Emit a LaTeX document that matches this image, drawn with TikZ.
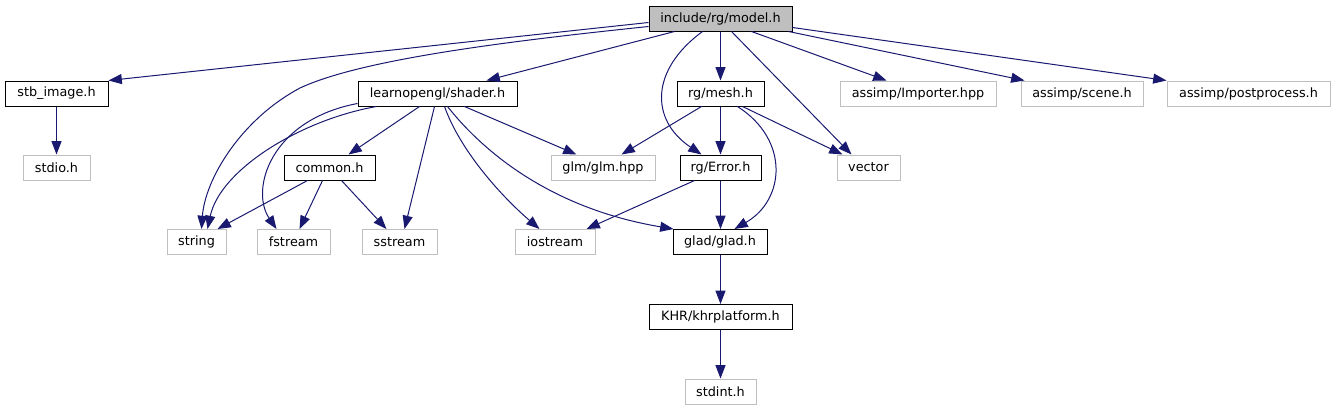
\documentclass[tikz,border=0pt]{standalone}
\usepackage{fontspec}
\setmainfont{DejaVu Sans}
\usetikzlibrary{arrows.meta,calc}
\definecolor{navy}{HTML}{191970}
\definecolor{grey75}{HTML}{BFBFBF}
\tikzset{
  box/.style={draw=black, line width=0.75pt, minimum height=18.75pt, inner sep=0pt,
              font=\fontsize{9.6}{11}\selectfont, text=black},
  ext/.style={box, draw=grey75},
  bw/.style={minimum width=#1*0.75pt},
  dep/.style={draw=navy, line width=0.75pt, -{Triangle[length=10pt,width=7.5pt]}}
}
\begin{document}
\begin{tikzpicture}[x=0.75pt,y=-0.75pt]
\useasboundingbox (0,0) rectangle (1335,411);
% row 0
\node[box,bw=143,fill=grey75] (model) at (720.5,18.5) {include/rg/model.h};
% row 1
\node[box,bw=103] (stb) at (56.5,93.5) {stb\_image.h};
\node[box,bw=159] (shader) at (437.5,93.5) {learnopengl/shader.h};
\node[box,bw=87] (mesh) at (720.5,93.5) {rg/mesh.h};
\node[ext,bw=156] (importer) at (918,93.5) {assimp/Importer.hpp};
\node[ext,bw=122] (scene) at (1082,93.5) {assimp/scene.h};
\node[ext,bw=163] (postprocess) at (1248.5,93.5) {assimp/postprocess.h};
% row 2
\node[ext,bw=67] (stdio) at (56.5,167.5) {stdio.h};
\node[box,bw=91] (common) at (329.5,167.5) {common.h};
\node[ext,bw=104] (glm) at (603,167.5) {glm/glm.hpp};
\node[box,bw=81] (error) at (720.5,167.5) {rg/Error.h};
\node[ext,bw=63] (vector) at (868.5,167.5) {vector};
% row 3
\node[ext,bw=59] (string) at (196.5,242) {string};
\node[ext,bw=73] (fstream) at (293.5,242) {fstream};
\node[ext,bw=75] (sstream) at (399.5,242) {sstream};
\node[ext,bw=80] (iostream) at (555,242) {iostream};
\node[box,bw=94] (glad) at (720,242) {glad/glad.h};
% row 4, 5
\node[box,bw=143] (khr) at (720.5,317) {KHR/khrplatform.h};
\node[ext,bw=71] (stdint) at (720.5,391.5) {stdint.h};

% edges from model.h
\draw[dep] ($(model.north west)+(0,17)$) -- (stb.north east);
\draw[dep] ($(model.north west)+(0,21)$) .. controls (500,42) and (360,60) .. (300,88)
           .. controls (240,120) and (205,180) .. ($(string.north west)+(35,0)$);
\draw[dep] ($(model.south west)+(26,0)$) -- ($(shader.north west)+(129,0)$);
\draw[dep] ($(model.south west)+(54,0)$) .. controls (650,70) and (650,120) .. ($(error.north west)+(22,0)$);
\draw[dep] (model.south) -- (mesh.north);
\draw[dep] ($(model.south west)+(83,0)$) -- ($(vector.north west)+(15,0)$);
\draw[dep] ($(model.south west)+(103,0)$) -- ($(importer.north west)+(47,0)$);
\draw[dep] ($(model.south east)+(-4,0)$) -- ($(scene.north west)+(4,0)$);
\draw[dep] ($(model.north east)+(0,22)$) -- (postprocess.north west);
% stb
\draw[dep] (stb.south) -- (stdio.north);
% shader
\draw[dep] ($(shader.south west)+(19,0)$) .. controls (300,120) and (220,170) .. ($(string.north west)+(41,0)$);
\draw[dep] ($(shader.north west)+(0,23)$) .. controls (270,120) and (250,190) .. ($(fstream.north west)+(20,0)$);
\draw[dep] ($(shader.south west)+(62,0)$) -- ($(common.north west)+(65,0)$);
\draw[dep] ($(shader.south west)+(77,0)$) -- ($(sstream.north west)+(43,0)$);
\draw[dep] ($(shader.south west)+(107,0)$) -- ($(glm.north west)+(26,0)$);
\draw[dep] ($(shader.south west)+(87,0)$) .. controls (460,150) and (500,195) .. ($(iostream.north west)+(25,0)$);
\draw[dep] ($(shader.south west)+(90,0)$) .. controls (490,160) and (560,210) .. ($(glad.north west)+(1,0)$);
% common
\draw[dep] ($(common.south west)+(24,0)$) -- ($(string.north west)+(51,0)$);
\draw[dep] ($(common.south west)+(39,0)$) -- ($(fstream.north west)+(43,0)$);
\draw[dep] ($(common.south west)+(58,0)$) -- ($(sstream.north west)+(25,0)$);
% mesh
\draw[dep] ($(mesh.south west)+(25,0)$) -- ($(glm.north west)+(71,0)$);
\draw[dep] (mesh.south) -- (error.north);
\draw[dep] ($(mesh.south west)+(61,0)$) .. controls (790,140) and (785,200) .. ($(glad.north west)+(62,0)$);
\draw[dep] ($(mesh.south west)+(66,0)$) -- ($(vector.north west)+(6,0)$);
% error
\draw[dep] ($(error.south west)+(15,0)$) -- ($(iostream.north west)+(72,0)$);
\draw[dep] (error.south) -- (error.south |- glad.north);
% glad, khr
\draw[dep] (khr.north |- glad.south) -- (khr.north);
\draw[dep] (khr.south) -- (stdint.north);
\end{tikzpicture}
\end{document}
